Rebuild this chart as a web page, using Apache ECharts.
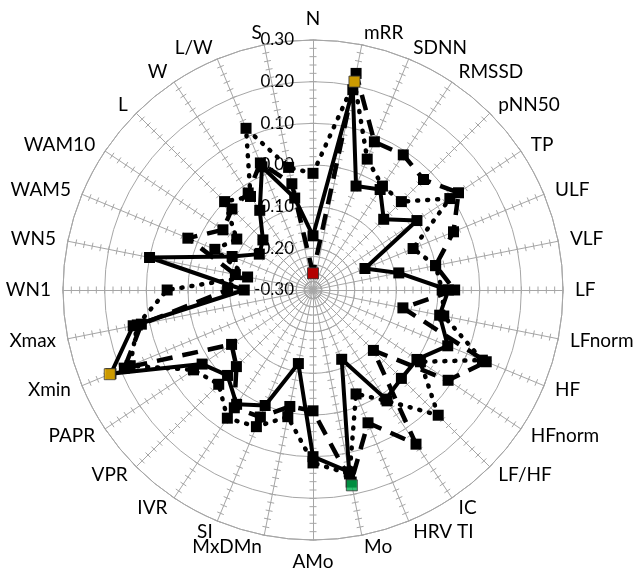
<!DOCTYPE html>
<html>
<head>
<meta charset="utf-8">
<script src="https://cdn.jsdelivr.net/npm/echarts@6/dist/echarts.min.js"></script>
<style>
html,body{margin:0;padding:0;background:#fff;}
#chart{width:635px;height:573px;}
</style>
</head>
<body>
<div id="chart"></div>
<script>
// Categories in clockwise order starting at the top
const indicators = ['N','mRR','SDNN','RMSSD','pNN50','TP','ULF','VLF','LF','LFnorm','HF','HFnorm','LF/HF','IC','HRV TI','Mo','AMo','MxDMn','SI','IVR','VPR','PAPR','Xmin','Xmax','WN1','WN5','WAM5','WAM10','L','W','L/W','S'];

// Series values (clockwise order, same as indicators)
const solidValues  = [-0.17, 0.19, -0.03, -0.01, -0.06, 0.00, -0.165, -0.09, 0.025, 0.01, 0.05, 0.00, 0.00, 0.015, -0.12, 0.145, 0.10, -0.12, 0.00, 0.03, -0.01, 0.02, 0.225, 0.14, -0.135, 0.10, -0.09, -0.145, -0.13, -0.07, 0.02, -0.075];
const dashedValues = [-0.26, 0.23, 0.085, 0.09, 0.075, 0.12, 0.065, 0.00, 0.04, -0.08, 0.15, 0.09, -0.095, 0.145, 0.045, 0.17, -0.01, -0.015, 0.03, 0.04, -0.04, -0.065, 0.19, 0.12, -0.095, -0.11, 0.025, -0.04, -0.025, -0.02, 0.03, -0.04];
const dottedValues = [-0.02, 0.21, 0.04, 0.00, 0.00, 0.095, -0.04, 0.00, 0.01, 0.02, 0.14, 0.01, 0.125, 0.02, -0.03, 0.15, 0.115, 0.01, 0.055, 0.07, 0.02, 0.045, 0.175, 0.13, 0.05, -0.14, -0.045, -0.08, 0.00, -0.03, 0.12, 0.00];

// Highlighted (coloured) markers
const highlightCategories = ['N', 'mRR', 'Mo', 'Xmin'];
const highlightValues = [-0.26, 0.21, 0.178, 0.228];
const highlightColors = ['#e00000', '#ffc000', '#00b050', '#ffc000'];

// Axis range and ticks
const axisMin = -0.3;
const axisMax = 0.3;
const axisSplits = 6;
const minorStep = 0.02;

// ECharts radar places indicators counter-clockwise: reorder.
const order = [0].concat(Array.from({length: indicators.length - 1}, (_, k) => indicators.length - 1 - k));
const reorder = arr => order.map(i => arr[i]);

const FONT = 'Lato';
const GRID = '#a6a6a6';
const radarIndicators = order.map((i, k) => {
  const ind = {name: indicators[i], min: axisMin, max: axisMax};
  if (k === 0) {
    ind.axisLabel = {
      show: true, showMinLabel: true, showMaxLabel: true,
      color: '#000', fontSize: 17, fontFamily: FONT, margin: 19,
      formatter: v => Number(v).toFixed(2)
    };
  }
  return ind;
});

// tick marks along every spoke (decoration built from the axis range)
const tickData = [];
const nTicks = Math.round((axisMax - axisMin) / minorStep);
for (let c = 0; c < indicators.length; c++) {
  for (let k = 1; k <= nTicks; k++) {
    tickData.push([+(axisMin + k * minorStep).toFixed(4), c]);
  }
}

const CENTER = [313, 290];
const RADIUS = 250;

const chart = echarts.init(document.getElementById('chart'), null, {renderer: 'canvas'});
const lineSeries = (dash, width, cap) => ({
  type: 'radar',
  symbol: 'rect',
  symbolSize: 11,
  itemStyle: {color: '#000'},
  lineStyle: {color: '#000', width: width, type: dash, cap: cap},
  silent: true
});

chart.setOption({
  animation: false,
  backgroundColor: '#fff',
  radar: {
    center: CENTER,
    radius: RADIUS,
    startAngle: 90,
    shape: 'circle',
    splitNumber: axisSplits,
    indicator: radarIndicators,
    axisName: {color: '#000', fontSize: 19, fontFamily: FONT},
    nameGap: 12,
    axisLine: {show: true, lineStyle: {color: GRID, width: 1}},
    axisTick: {show: false},
    axisLabel: {show: false},
    splitLine: {show: true, lineStyle: {color: GRID, width: 1}},
    splitArea: {show: false}
  },
  polar: {center: CENTER, radius: RADIUS},
  angleAxis: {type: 'category', data: indicators, boundaryGap: false, startAngle: 90, clockwise: true, show: false},
  radiusAxis: {type: 'value', min: axisMin, max: axisMax, show: false},
  series: [
    {
      type: 'custom',
      coordinateSystem: 'polar',
      silent: true,
      z: 1,
      data: tickData,
      renderItem: function (params, api) {
        const v = api.value(0);
        const idx = api.value(1);
        const p = api.coord([v, idx]);
        const c = api.coord([axisMin, idx]);
        const dx = p[0] - c[0], dy = p[1] - c[1];
        const len = Math.sqrt(dx * dx + dy * dy) || 1;
        const nx = -dy / len * 3.5, ny = dx / len * 3.5;
        return {
          type: 'line',
          shape: {x1: p[0] - nx, y1: p[1] - ny, x2: p[0] + nx, y2: p[1] + ny},
          style: {stroke: GRID, lineWidth: 1}
        };
      }
    },
    Object.assign(lineSeries([1, 9], 4.5, 'round'), {z: 2, data: [{value: reorder(dottedValues), name: 'dotted'}]}),
    Object.assign(lineSeries([16, 10], 4.5, 'butt'), {z: 3, data: [{value: reorder(dashedValues), name: 'dashed'}]}),
    Object.assign(lineSeries('solid', 4, 'butt'), {z: 4, data: [{value: reorder(solidValues), name: 'solid'}]}),
    {
      type: 'scatter',
      coordinateSystem: 'polar',
      symbol: 'rect',
      symbolSize: 11,
      z: 10,
      silent: true,
      data: highlightCategories.map((c, i) => ({
        value: [highlightValues[i], c],
        itemStyle: {color: highlightColors[i], borderColor: '#3a3a3a', borderWidth: 1}
      }))
    }
  ]
});
</script>
</body>
</html>
